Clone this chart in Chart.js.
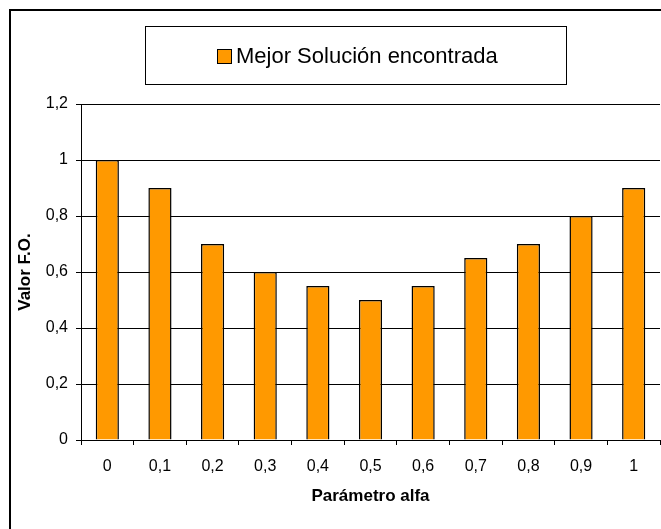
<!DOCTYPE html>
<html>
<head>
<meta charset="utf-8">
<title>Mejor Solución encontrada</title>
<script src="https://cdn.jsdelivr.net/npm/chart.js@4/dist/chart.umd.min.js"></script>
<style>
  html, body { margin: 0; padding: 0; background: #fff; }
  #wrap { position: relative; width: 661px; height: 529px; }
</style>
</head>
<body>
<div id="wrap"><canvas id="grafico" width="661" height="529"></canvas></div>
<script>
// Datos
const alfas = ['0', '0,1', '0,2', '0,3', '0,4', '0,5', '0,6', '0,7', '0,8', '0,9', '1'];
const mejorSolucion = [1, 0.9, 0.7, 0.6, 0.55, 0.5, 0.55, 0.65, 0.7, 0.8, 0.9];
const serieNombre = 'Mejor Solución encontrada';
const ejeX = 'Parámetro alfa';
const ejeY = 'Valor F.O.';

const fuente = '"Liberation Sans", Arial, sans-serif';
const naranja = '#FF9900';

// Marco exterior + cuadro de leyenda (estilo Excel)
const marcoPlugin = {
  id: 'marco',
  afterDraw(chart) {
    const ctx = chart.ctx;
    ctx.save();
    ctx.strokeStyle = '#000';
    ctx.lineWidth = 2;
    ctx.beginPath();
    ctx.moveTo(10, 540);
    ctx.lineTo(10, 10);
    ctx.lineTo(680, 10);
    ctx.stroke();

    // leyenda
    ctx.lineWidth = 1;
    ctx.strokeRect(145.5, 26.5, 421, 58);
    const ds = chart.data.datasets[0];
    ctx.fillStyle = ds.backgroundColor;
    ctx.fillRect(217.5, 49.5, 14, 14);
    ctx.strokeRect(217.5, 49.5, 14, 14);
    ctx.fillStyle = '#000';
    ctx.font = '22px ' + fuente;
    ctx.textBaseline = 'middle';
    ctx.fillText(ds.label, 236, 57);
    ctx.restore();
  }
};

new Chart(document.getElementById('grafico'), {
  type: 'bar',
  data: {
    labels: alfas,
    datasets: [{
      label: serieNombre,
      data: mejorSolucion,
      backgroundColor: naranja,
      borderColor: '#000',
      borderWidth: 1.5,
      categoryPercentage: 1,
      barPercentage: 0.44
    }]
  },
  options: {
    responsive: false,
    animation: false,
    devicePixelRatio: 1,
    layout: { padding: { top: 104, left: 15, right: 1, bottom: 22 } },
    plugins: {
      legend: { display: false },
      tooltip: { enabled: false }
    },
    scales: {
      x: {
        grid: { display: true, drawOnChartArea: false, drawTicks: true, tickLength: 5, color: '#000', offset: true },
        border: { display: true, color: '#000', width: 1 },
        ticks: { color: '#000', font: { family: fuente, size: 16 }, padding: 12, maxRotation: 0, autoSkip: false },
        title: { display: true, text: ejeX, color: '#000', font: { family: fuente, size: 17, weight: 'bold' }, padding: 0 },
        afterFit(scale) { scale.height = 529 - 22 - 440; }
      },
      y: {
        min: 0,
        max: 1.2,
        grid: { color: '#000', tickLength: 5, lineWidth: 1 },
        border: { display: true, color: '#000', width: 1 },
        ticks: {
          stepSize: 0.2,
          color: '#000',
          padding: 8,
          font: { family: fuente, size: 16 },
          callback: v => String(Math.round(v * 10) / 10).replace('.', ',')
        },
        title: { display: true, text: ejeY, color: '#000', font: { family: fuente, size: 17, weight: 'bold' }, padding: 0 },
        afterFit(scale) { scale.width = 81 - 15; }
      }
    }
  },
  plugins: [marcoPlugin]
});
</script>
</body>
</html>
